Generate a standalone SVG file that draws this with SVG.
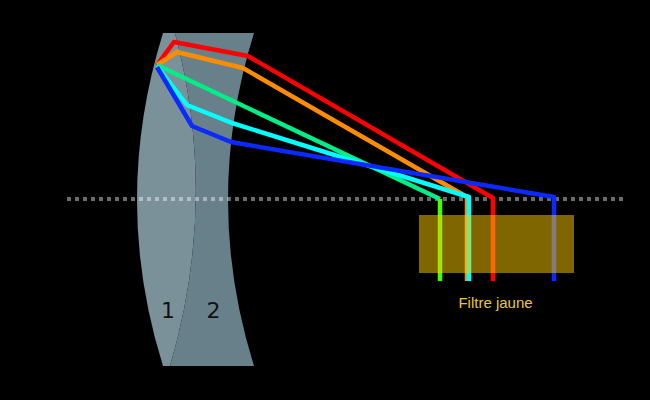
<svg xmlns="http://www.w3.org/2000/svg" width="650" height="400" viewBox="0 0 650 400">
<style>
.ray{fill:none;stroke-width:4.5;stroke-linejoin:round;stroke-linecap:butt}
.num{font-family:"DejaVu Sans",sans-serif;font-size:22px;fill:#111;text-anchor:middle}
.lbl{font-family:"Liberation Sans",Arial,sans-serif;font-size:15px;fill:#e8c53a;text-anchor:middle}
</style>
<rect width="650" height="400" fill="#000"/>
<g id="lens">
<g id="element1">
<path d="M163,33 L175,33 Q219,200 170,366 L163,366 Q111,200 163,33 Z" fill="#7b9199"/>
<text class="num" x="168" y="318">1</text>
</g>
<g id="element2">
<path d="M175,33 L254,33 Q202,200 254,366 L170,366 Q219,200 175,33 Z" fill="#68808a"/>
<text class="num" x="213.5" y="318">2</text>
</g>
</g>
<g id="axis">
<line x1="67" y1="199" x2="625" y2="199" stroke="#fff" stroke-opacity="0.42" stroke-width="4" stroke-dasharray="4 4"/>
</g>
<g id="connectors">
<path class="ray" stroke="#ff0000" d="M157,65 L174,42 L248,56 L493,198 L493,281"/>
<path class="ray" stroke="#ff8c00" d="M157,65 L177,52 L243,68 L467,197 L467,281"/>
<path class="ray" stroke="#00ee88" d="M157,65 L440,199"/>
<path class="ray" stroke="#44ff00" d="M440,199 L440,281"/>
<path class="ray" stroke="#00ffff" d="M157,66 L187,105 L232,123 L469,197 L469,281"/>
<path class="ray" stroke="#0a2aff" d="M157,67 L192,126 L231,142 L554,197 L554,281"/>
</g>
<g id="filter">
<rect x="419" y="215" width="155" height="58" fill="#ffcc00" fill-opacity="0.5"/>
<text class="lbl" x="495.5" y="308">Filtre jaune</text>
</g>
</svg>
